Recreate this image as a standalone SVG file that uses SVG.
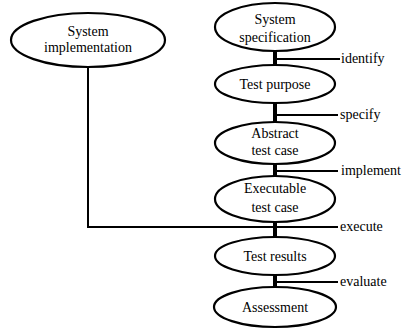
<svg xmlns="http://www.w3.org/2000/svg" width="407" height="330" viewBox="0 0 407 330">
<style>
.n{fill:#fff;stroke:#000;stroke-width:2.2}
.t{font-size:14px;fill:#000;text-anchor:middle}
.l{font-size:14px;fill:#000}
.c{stroke:#000;stroke-width:2;fill:none}
.v{stroke:#000;stroke-width:4;fill:none}
</style>
<rect width="407" height="330" fill="#fff"/>
<g id="connectors">
<polyline class="c" points="88,67 88,227 338,227"/>
<line class="v" x1="275" y1="50" x2="275" y2="66"/>
<line class="v" x1="275" y1="102" x2="275" y2="123"/>
<line class="v" x1="275" y1="164" x2="275" y2="177"/>
<line class="v" x1="275" y1="221" x2="275" y2="238"/>
<line class="v" x1="275" y1="274" x2="275" y2="288"/>
<line class="c" x1="275" y1="59" x2="340" y2="59"/>
<line class="c" x1="275" y1="115" x2="338" y2="115"/>
<line class="c" x1="275" y1="171" x2="338" y2="171"/>
<line class="c" x1="275" y1="282" x2="338" y2="282"/>
</g>
<g font-family="Liberation Serif, serif">
<g id="sysimpl"><ellipse class="n" cx="88" cy="40" rx="77" ry="27"/><text class="t" x="88" y="36">System</text><text class="t" x="88" y="52">implementation</text></g>
<g id="sysspec"><ellipse class="n" cx="275" cy="27" rx="60" ry="24"/><text class="t" x="275" y="24">System</text><text class="t" x="275" y="42">specification</text></g>
<g id="testpurpose"><ellipse class="n" cx="275" cy="84" rx="60" ry="19"/><text class="t" x="275" y="89">Test purpose</text></g>
<g id="abstract"><ellipse class="n" cx="275" cy="143" rx="60" ry="21"/><text class="t" x="275" y="138">Abstract</text><text class="t" x="275" y="155">test case</text></g>
<g id="executable"><ellipse class="n" cx="275" cy="199" rx="60" ry="23"/><text class="t" x="275" y="193">Executable</text><text class="t" x="275" y="212">test case</text></g>
<g id="results"><ellipse class="n" cx="275" cy="256" rx="60" ry="19"/><text class="t" x="275" y="261">Test results</text></g>
<g id="assessment"><ellipse class="n" cx="275" cy="307" rx="61" ry="20"/><text class="t" x="275" y="312">Assessment</text></g>
<g id="labels">
<text class="l" x="341" y="63">identify</text>
<text class="l" x="340" y="119">specify</text>
<text class="l" x="341" y="175">implement</text>
<text class="l" x="340" y="231">execute</text>
<text class="l" x="340" y="286">evaluate</text>
</g>
</g>
</svg>
